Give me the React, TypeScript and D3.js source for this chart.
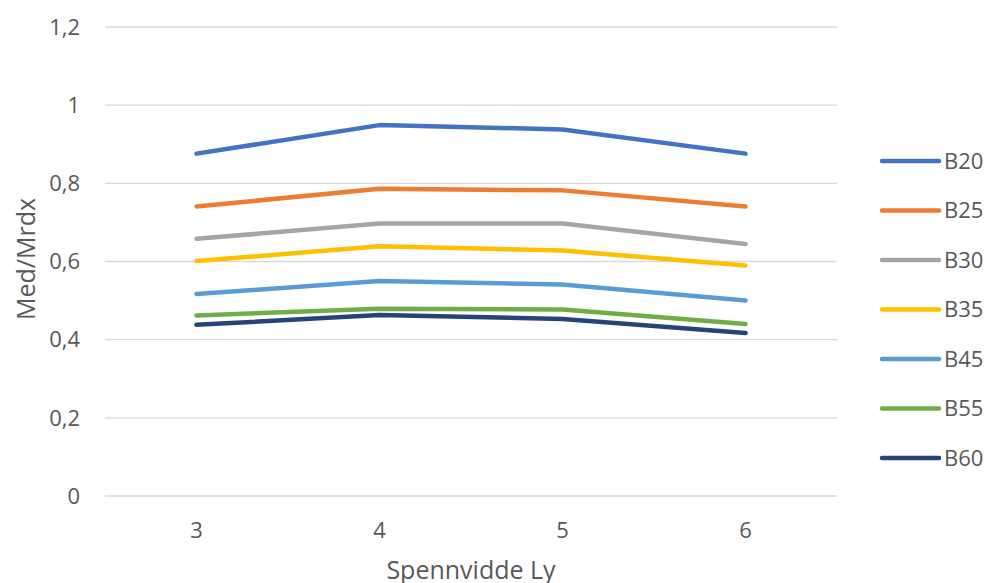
import React from "react";
import * as d3 from "d3";

const categories = [3, 4, 5, 6];
const seriesNames = ["B20", "B25", "B30", "B35", "B45", "B55", "B60"];
const b20 = [0.876, 0.949, 0.938, 0.876];
const b25 = [0.741, 0.786, 0.782, 0.741];
const b30 = [0.658, 0.697, 0.697, 0.645];
const b35 = [0.601, 0.639, 0.628, 0.59];
const b45 = [0.517, 0.55, 0.541, 0.5];
const b55 = [0.462, 0.479, 0.477, 0.44];
const b60 = [0.438, 0.463, 0.453, 0.417];
const yTicks = [0, 0.2, 0.4, 0.6, 0.8, 1, 1.2];
const colors = ["#4472C4", "#ED7D31", "#A5A5A5", "#FFC000", "#5B9BD5", "#70AD47", "#264478"];

const seriesValues = [b20, b25, b30, b35, b45, b55, b60];

const W = 987;
const H = 583;
const plot = { left: 105, right: 837, top: 27, bottom: 496 };
const font = "'Open Sans', 'Noto Sans', sans-serif";
const textColor = "#595959";
const tickSize = 22;
const titleSize = 25;

export default function App() {
  const x = d3
    .scalePoint<number>()
    .domain(categories)
    .range([plot.left, plot.right])
    .padding(0.5);
  const y = d3.scaleLinear().domain([0, 1.2]).range([plot.bottom, plot.top]);
  const line = d3
    .line<number>()
    .x((_, i) => x(categories[i]) as number)
    .y((d) => y(d));
  const fmt = (v: number) => String(+v.toFixed(1)).replace(".", ",");

  return (
    <svg
      width={W}
      height={H}
      style={{ position: "absolute", left: 0, top: 0, background: "#fff" }}
    >
      {yTicks.map((t) => (
        <g key={t}>
          <line
            x1={plot.left}
            x2={plot.right}
            y1={y(t)}
            y2={y(t)}
            stroke="#d9d9d9"
            strokeWidth={1.3}
          />
          <text
            x={80}
            y={y(t)}
            dy="0.35em"
            textAnchor="end"
            fontFamily={font}
            fontSize={tickSize}
            fill={textColor}
          >
            {fmt(t)}
          </text>
        </g>
      ))}
      {categories.map((c) => (
        <text
          key={c}
          x={x(c)}
          y={530}
          dy="0.35em"
          textAnchor="middle"
          fontFamily={font}
          fontSize={tickSize}
          fill={textColor}
        >
          {c}
        </text>
      ))}
      <text
        x={471}
        y={579}
        textAnchor="middle"
        fontFamily={font}
        fontSize={titleSize}
        fill={textColor}
      >
        Spennvidde Ly
      </text>
      <text
        transform={`translate(26,259) rotate(-90)`}
        dy="0.35em"
        textAnchor="middle"
        fontFamily={font}
        fontSize={titleSize}
        fill={textColor}
      >
        Med/Mrdx
      </text>
      {seriesValues.map((vals, i) => (
        <path
          key={seriesNames[i]}
          d={line(vals) || ""}
          fill="none"
          stroke={colors[i]}
          strokeWidth={4.5}
          strokeLinecap="round"
          strokeLinejoin="round"
        />
      ))}
      {seriesNames.map((name, i) => {
        const ly = 161 + i * 49.5;
        return (
          <g key={name}>
            <line
              x1={882}
              x2={939}
              y1={ly}
              y2={ly}
              stroke={colors[i]}
              strokeWidth={4.5}
              strokeLinecap="round"
            />
            <text
              x={944}
              y={ly}
              dy="0.35em"
              fontFamily={font}
              fontSize={tickSize}
              fill={textColor}
            >
              {name}
            </text>
          </g>
        );
      })}
    </svg>
  );
}
